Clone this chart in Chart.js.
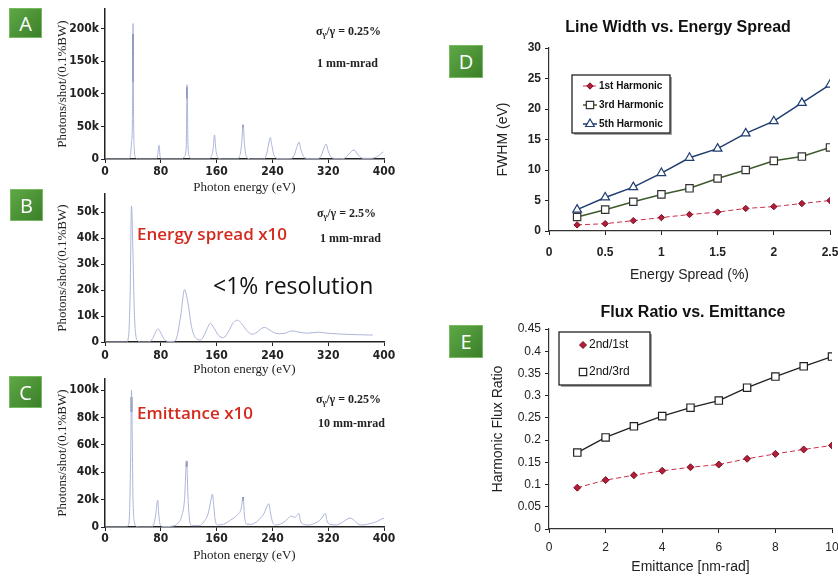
<!DOCTYPE html>
<html><head><meta charset="utf-8">
<script src="https://cdn.jsdelivr.net/npm/chart.js@4/dist/chart.umd.min.js"></script>
<style>
html,body{margin:0;padding:0;background:#fff;width:838px;height:577px;overflow:hidden;position:relative;}
canvas{position:absolute;}
.box{position:absolute;background:linear-gradient(135deg,#5ea846,#3b8029);color:#fff;font-family:'Open Sans',sans-serif;font-size:20px;display:flex;align-items:center;justify-content:center;box-sizing:border-box;border:1px solid #78b862;}
.ann{position:absolute;font-family:'Liberation Serif',serif;font-weight:bold;font-size:12px;color:#222;white-space:nowrap;line-height:1;transform:translateY(-50%);}
.ann sub{font-size:8px;vertical-align:-2px;}
.red{position:absolute;font-family:'Open Sans',sans-serif;font-weight:600;font-size:17px;color:#d42a1e;white-space:nowrap;line-height:1;transform:translateY(-50%);}
.big{position:absolute;font-family:'Open Sans',sans-serif;font-size:23px;color:#111;white-space:nowrap;line-height:1;transform:translateY(-50%);}
.ttl{position:absolute;font-family:'Liberation Sans',Arial,sans-serif;font-weight:bold;font-size:16px;color:#111;white-space:nowrap;line-height:1;transform:translate(-50%,-50%);}
</style></head>
<body>
<canvas id="cA" width="420" height="195" style="left:0;top:0"></canvas>
<canvas id="cB" width="420" height="195" style="left:0;top:185px"></canvas>
<canvas id="cC" width="420" height="207" style="left:0;top:370px"></canvas>
<canvas id="cD" width="440" height="290" style="left:420px;top:0"></canvas>
<canvas id="cE" width="440" height="287" style="left:420px;top:290px"></canvas>

<div class="box" style="left:9px;top:8px;width:33px;height:30px">A</div>
<div class="box" style="left:10px;top:189px;width:33px;height:32px">B</div>
<div class="box" style="left:9px;top:376px;width:33px;height:32px">C</div>
<div class="box" style="left:449px;top:45px;width:34px;height:33px">D</div>
<div class="box" style="left:449px;top:325px;width:34px;height:33px">E</div>

<div class="ann" style="left:316px;top:32px">σ<sub>γ</sub>/γ = 0.25%</div>
<div class="ann" style="left:317px;top:63px">1 mm-mrad</div>
<div class="ann" style="left:317px;top:214px">σ<sub>γ</sub>/γ = 2.5%</div>
<div class="ann" style="left:320px;top:238px">1 mm-mrad</div>
<div class="ann" style="left:316px;top:400px">σ<sub>γ</sub>/γ = 0.25%</div>
<div class="ann" style="left:318px;top:423px">10 mm-mrad</div>

<div class="red" style="left:137px;top:233px">Energy spread x10</div>
<div class="big" style="left:213px;top:285px">&lt;1% resolution</div>
<div class="red" style="left:137px;top:412px">Emittance x10</div>

<div class="ttl" style="left:678px;top:27px">Line Width vs. Energy Spread</div>
<div class="ttl" style="left:693px;top:312px">Flux Ratio vs. Emittance</div>

<script>
// ---------- data ----------
const energyTicks = [0, 80, 160, 240, 320, 400];
const energyTickLabels = ['0', '80', '160', '240', '320', '400'];

// Panel A spectrum (eV, thousands of photons)
const specA_E = [0,33,36,38,39.3,40.2,41,42,44,48,72,75,77.5,79,82,110,114,116.5,117.7,119,121,125,148,152,155,157,159,162,168,188,193,196,198,200,203,210,226,231,235,237,239,243,250,265,271,275,278,281,286,295,304,310,314,317,320,325,335,343,350,357,363,370,382,392,399];
const specA_I = [0,0,3,25,60,208,60,15,2,0,0,3,21,4,0,0,4,20,114,20,4,0,0,3,15,37,14,2,0,0,4,25,53,22,3,0,0,5,25,33,22,4,0.5,0.5,5,18,26,14,2,0.5,0.5,5,17,23,12,2,0.5,1,8,14,6,1,1,5,11];
const coreA_E = [40.2, 117.7, 198];
const coreA_lo = [118, 93, 48];
const coreA_hi = [192, 110, 52];

// Panel B spectrum
const specB_E = [0,31,34,36,38,40,42,44,47,52,62,68,72,76,80,85,92,100,104,109,114,119,124,130,137,142,147,151,156,163,170,177,184,190,196,203,211,218,224,229,235,242,250,258,268,278,290,306,318,335,350,365,378,384];
const specB_I = [0,0,3,18,52.5,35,12,3,0.5,0,0,1.2,3.5,5,3.5,1,0.2,0.3,3,11,20.2,15,6,1.5,0.8,2.5,5.5,7.2,5.5,2.5,1.7,4,7.5,8.4,7,4.5,3,3.8,5.2,5.6,4.8,3.6,3.2,3.4,4.3,3.8,3.4,3.8,3.4,3.1,2.9,2.8,2.7,2.7];
const coreB_E = [];
const coreB_lo = [];
const coreB_hi = [];

// Panel C spectrum
const specC_E = [0,30,33,35,37,38,39,40,42,45,50,65,70,73,75.5,77,79,83,95,105,110,114,117,119,121,124,135,142,148,152,154,156,158,162,170,180,190,195,198,200,203,210,220,228,233,235,237,240,245,255,262,267,272,276,278,280,284,292,302,310,314,316,318,322,332,342,348,352,356,362,370,380,390,396,400];
const specC_I = [0,0,1,8,60,100,70,25,4,0.5,0,0,2,10,19.7,10,2,0.3,0.5,3,8,20,48.4,22,6,1,1,4,10,20,24,15,5,1.5,2,5,9,13,22,8,2,2,5,10,16,17,11,4,1.5,3,6,8,7,9,10,5,2,1.5,3,6,9,10,5,2,1.5,4,6,6.5,5.5,2.5,1.5,2.5,4,5.8,6.5];
const coreC_E = [38, 117, 198];
const coreC_lo = [84, 44, 19];
const coreC_hi = [95, 48, 22];

// Panel D
const spreadPct = [0.25,0.5,0.75,1,1.25,1.5,1.75,2,2.25,2.5];
const fwhm1st = [1.0,1.2,1.7,2.2,2.7,3.1,3.7,4.0,4.5,5.0];
const fwhm3rd = [2.3,3.5,4.8,6.0,7.0,8.6,10.0,11.5,12.2,13.7];
const fwhm5th = [3.5,5.5,7.2,9.5,12.0,13.5,16.0,18.0,21.0,24.0];

// Panel E
const emittance = [1,2,3,4,5,6,7,8,9,10];
const ratio2nd1st = [0.093,0.110,0.121,0.131,0.139,0.145,0.158,0.169,0.179,0.188];
const ratio2nd3rd = [0.172,0.206,0.231,0.254,0.273,0.289,0.318,0.343,0.366,0.388];

// ---------- helpers ----------
const SERIF = "'Liberation Serif','Times New Roman',serif";
const COND = "'DejaVu Sans Condensed','Liberation Sans Narrow',sans-serif";
const ARIAL = "'Liberation Sans',Arial,sans-serif";
const AX = '#222';

function pts(xs, ys) { return xs.map((x, i) => ({x: x, y: ys[i]})); }
function corePts(xs, lo, hi) {
  const out = [];
  xs.forEach((x, i) => { out.push({x: x, y: lo[i]}, {x: x, y: hi[i]}, {x: x, y: null}); });
  return out;
}
function stepTicks(max, step) {
  const t = [];
  for (let v = 0; v <= max + 1e-9; v += step) t.push({value: +v.toFixed(4)});
  return t;
}

function makeSpectrum(id, E, I, cE, cLo, cHi, yMax, yStep, g) {
  new Chart(document.getElementById(id), {
    type: 'line',
    data: {datasets: [
      {data: pts(E, I), borderColor: '#adb4da', borderWidth: 1, pointRadius: 0, cubicInterpolationMode: 'monotone'},
      {data: corePts(cE, cLo, cHi), borderColor: '#1b2550', borderWidth: 1.6, pointRadius: 0, spanGaps: false}
    ]},
    options: {
      responsive: false, animation: false, devicePixelRatio: 1,
      layout: {padding: {left: g.padL, top: g.padT, right: g.padR, bottom: 0}},
      plugins: {legend: {display: false}, tooltip: {enabled: false}},
      scales: {
        x: {
          type: 'linear', min: 0, max: 400,
          afterBuildTicks: s => { s.ticks = energyTicks.map(v => ({value: v})); },
          afterFit: s => { s.height = g.xH; },
          ticks: {callback: (v, i) => energyTickLabels[i], font: {family: COND, size: 12, weight: 'bold'}, color: AX, padding: g.xTickPad, maxRotation: 0},
          grid: {drawOnChartArea: false, tickLength: 4, color: AX, lineWidth: 1},
          border: {color: AX, width: 1.5},
          title: {display: true, text: 'Photon energy (eV)', font: {family: SERIF, size: 13}, color: AX, padding: {top: 0, bottom: g.xTitlePB}}
        },
        y: {
          min: 0, max: yMax,
          afterBuildTicks: s => { s.ticks = stepTicks(yMax, yStep).filter(t => t.value <= yMax); },
          afterFit: s => { s.width = g.yW; },
          ticks: {callback: v => v === 0 ? '0' : v + 'k', font: {family: COND, size: 12, weight: 'bold'}, color: AX, padding: 2},
          grid: {drawOnChartArea: false, tickLength: 4, color: AX, lineWidth: 1},
          border: {color: AX, width: 1.5},
          title: {display: true, text: 'Photons/shot/(0.1%BW)', font: {family: SERIF, size: 13}, color: AX, padding: {top: 0, bottom: 0}}
        }
      }
    }
  });
}

makeSpectrum('cA', specA_E, specA_I, coreA_E, coreA_lo, coreA_hi, 230, 50,
  {padL: 55, padT: 8, padR: 36, yW: 50, xH: 36, xTickPad: 2, xTitlePB: 0});
makeSpectrum('cB', specB_E, specB_I, coreB_E, coreB_lo, coreB_hi, 57, 10,
  {padL: 55, padT: 7, padR: 36, yW: 50, xH: 38, xTickPad: 3, xTitlePB: 3});
makeSpectrum('cC', specC_E, specC_I, coreC_E, coreC_lo, coreC_hi, 108, 20,
  {padL: 55, padT: 7, padR: 36, yW: 50, xH: 50, xTickPad: 1, xTitlePB: 14});

function drawMarker(ctx, style, r, x, y) {
  ctx.beginPath();
  if (style === 'rectRot') {
    ctx.moveTo(x, y - r); ctx.lineTo(x + r, y); ctx.lineTo(x, y + r); ctx.lineTo(x - r, y); ctx.closePath();
  } else if (style === 'rect') {
    const s = r * Math.SQRT1_2; ctx.rect(x - s, y - s, 2 * s, 2 * s);
  } else if (style === 'triangle') {
    ctx.moveTo(x, y - r); ctx.lineTo(x + r * 0.86, y + r * 0.5); ctx.lineTo(x - r * 0.86, y + r * 0.5); ctx.closePath();
  }
  ctx.fill(); ctx.stroke();
}

const boxLegend = {
  id: 'boxLegend',
  afterDraw(chart, args, o) {
    const ctx = chart.ctx;
    ctx.save();
    ctx.fillStyle = 'rgba(0,0,0,0.35)';
    ctx.fillRect(o.x + 2, o.y + 2, o.w, o.h);
    ctx.fillStyle = '#fff';
    ctx.fillRect(o.x, o.y, o.w, o.h);
    ctx.strokeStyle = '#111'; ctx.lineWidth = 1.2;
    ctx.strokeRect(o.x, o.y, o.w, o.h);
    chart.data.datasets.forEach((ds, i) => {
      const y = o.rows[i];
      if (o.line) {
        ctx.strokeStyle = ds.borderColor; ctx.lineWidth = ds.borderWidth;
        ctx.setLineDash(ds.borderDash || []);
        ctx.beginPath(); ctx.moveTo(o.lx0, y); ctx.lineTo(o.lx1, y); ctx.stroke();
        ctx.setLineDash([]);
      }
      ctx.fillStyle = ds.pointBackgroundColor; ctx.strokeStyle = ds.pointBorderColor; ctx.lineWidth = ds.pointBorderWidth;
      drawMarker(ctx, ds.pointStyle, ds.pointRadius, o.mx, y);
      ctx.fillStyle = '#111'; ctx.font = o.font; ctx.textBaseline = 'middle'; ctx.textAlign = 'left';
      ctx.fillText(ds.label, o.tx, y);
    });
    ctx.restore();
  }
};

function lineOpts(g, xs, ys) {
  const fmt = v => String(+(+v).toFixed(2));
  return {
    responsive: false, animation: false, devicePixelRatio: 1,
    layout: {padding: {left: g.padL, top: g.padT, right: g.padR, bottom: 0}},
    plugins: {legend: {display: false}, tooltip: {enabled: false}, boxLegend: g.legend},
    scales: {
      x: {
        type: 'linear', min: xs.min, max: xs.max,
        afterBuildTicks: s => { s.ticks = stepTicks(xs.max, xs.step); },
        afterFit: s => { s.height = g.xH; },
        ticks: {callback: fmt, font: {family: ARIAL, size: 12, weight: g.tickWeight}, color: AX, padding: g.xTickPad, maxRotation: 0},
        grid: {drawOnChartArea: false, tickLength: 4, color: AX},
        border: {color: '#333', width: 1.2},
        title: {display: true, text: xs.title, font: {family: ARIAL, size: 14}, color: AX, padding: {top: 0, bottom: g.xTitlePB}}
      },
      y: {
        min: ys.min, max: ys.max,
        afterBuildTicks: s => { s.ticks = stepTicks(ys.max, ys.step); },
        afterFit: s => { s.width = g.yW; },
        ticks: {callback: fmt, font: {family: ARIAL, size: 12, weight: g.tickWeight}, color: AX, padding: 4},
        grid: {drawOnChartArea: false, tickLength: 4, color: AX},
        border: {color: '#333', width: 1.2},
        title: {display: true, text: ys.title, font: {family: ARIAL, size: 14}, color: AX, padding: {top: 0, bottom: 0}}
      }
    }
  };
}

new Chart(document.getElementById('cD'), {
  type: 'line',
  data: {datasets: [
    {label: '1st Harmonic', data: pts(spreadPct, fwhm1st), borderColor: '#c8304a', borderDash: [5, 3], borderWidth: 1,
     pointStyle: 'rectRot', pointRadius: 3.2, pointBackgroundColor: '#b01e3c', pointBorderColor: '#7a1020', pointBorderWidth: 1},
    {label: '3rd Harmonic', data: pts(spreadPct, fwhm3rd), borderColor: '#3d5a2c', borderWidth: 1.5,
     pointStyle: 'rect', pointRadius: 5.2, pointBackgroundColor: '#fff', pointBorderColor: '#333', pointBorderWidth: 1.2},
    {label: '5th Harmonic', data: pts(spreadPct, fwhm5th), borderColor: '#1f3d70', borderWidth: 1.5,
     pointStyle: 'triangle', pointRadius: 5, pointBackgroundColor: '#fff', pointBorderColor: '#1f3d70', pointBorderWidth: 1.2}
  ]},
  options: lineOpts(
    {padL: 75, padT: 48, padR: 30, yW: 54, xH: 59, xTickPad: 10, xTitlePB: 6.6, tickWeight: 'bold',
     legend: {x: 152, y: 75, w: 98, h: 58, rows: [86, 105, 124], line: true, lx0: 163, lx1: 177, mx: 170, tx: 179, font: "bold 10px 'Liberation Sans',Arial,sans-serif"}},
    {min: 0, max: 2.5, step: 0.5, title: 'Energy Spread (%)'},
    {min: 0, max: 30, step: 5, title: 'FWHM (eV)'}),
  plugins: [boxLegend]
});

new Chart(document.getElementById('cE'), {
  type: 'line',
  data: {datasets: [
    {label: '2nd/1st', data: pts(emittance, ratio2nd1st), borderColor: '#c8304a', borderDash: [5, 3], borderWidth: 1,
     pointStyle: 'rectRot', pointRadius: 3.5, pointBackgroundColor: '#b01e3c', pointBorderColor: '#7a1020', pointBorderWidth: 1},
    {label: '2nd/3rd', data: pts(emittance, ratio2nd3rd), borderColor: '#222', borderWidth: 1.3,
     pointStyle: 'rect', pointRadius: 5.2, pointBackgroundColor: '#fff', pointBorderColor: '#222', pointBorderWidth: 1.2}
  ]},
  options: lineOpts(
    {padL: 70, padT: 39, padR: 28, yW: 59, xH: 48, xTickPad: 7, xTitlePB: 1.6, tickWeight: 'normal',
     legend: {x: 139, y: 42, w: 91, h: 53, rows: [55, 82], line: false, mx: 163, tx: 169, font: "12px 'Liberation Sans',Arial,sans-serif"}},
    {min: 0, max: 10, step: 2, title: 'Emittance [nm-rad]'},
    {min: 0, max: 0.45, step: 0.05, title: 'Harmonic Flux Ratio'}),
  plugins: [boxLegend]
});
</script>
</body></html>
